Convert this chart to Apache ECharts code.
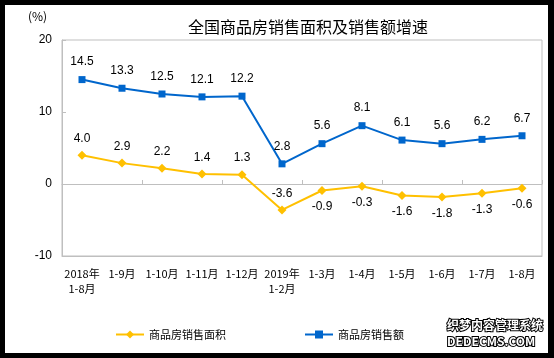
<!DOCTYPE html>
<html><head><meta charset="utf-8">
<script src="https://cdn.jsdelivr.net/npm/echarts@6/dist/echarts.min.js"></script>
<style>
html,body{margin:0;padding:0;background:#000;width:554px;height:358px;overflow:hidden}
#c{position:absolute;left:5px;top:5px;width:543px;height:348px;background:#fff}
</style></head><body><div id="c"></div>
<script>
var categories = ['2018年\n1-8月','1-9月','1-10月','1-11月','1-12月','2019年\n1-2月','1-3月','1-4月','1-5月','1-6月','1-7月','1-8月'];
var areaGrowth = [4.0,2.9,2.2,1.4,1.3,-3.6,-0.9,-0.3,-1.6,-1.8,-1.3,-0.6];
var amountGrowth = [14.5,13.3,12.5,12.1,12.2,2.8,5.6,8.1,6.1,5.6,6.2,6.7];
var yTicks = [-10,0,10,20];

var chart = echarts.init(document.getElementById('c'));
var numFont = 'Liberation Sans, Arial, sans-serif';
var cjk = '"Noto Sans CJK SC", sans-serif';
var areaData = areaGrowth.map(function(v,i){
  return {value:v, label:{position:(v<0 && i!==5)?'bottom':'top'}};
});
chart.setOption({
  animation:false,
  title:{text:'全国商品房销售面积及销售额增速',left:178,top:9,
    textStyle:{fontFamily:cjk,fontSize:16,fontWeight:'normal',color:'#000'}},
  graphic:[{type:'text',left:23,top:5,style:{text:'(%)',font:'12px '+cjk,fill:'#000'}},
    {type:'text',right:4,top:312,style:{text:'织梦内容管理系统\nDEDECMS.COM',font:'bold 12px '+cjk,fill:'#fff',stroke:'#000',lineWidth:2,lineHeight:16,textAlign:'left'}}],
  grid:{left:57,right:6,top:35,bottom:97,show:true,borderColor:'#bfbfbf',borderWidth:1},
  legend:{bottom:8,left:105,itemGap:78,itemWidth:28,itemHeight:10,
    textStyle:{fontFamily:cjk,fontSize:11,color:'#000'},
    data:['商品房销售面积','商品房销售额']},
  xAxis:[{type:'category',data:categories,boundaryGap:true,position:'bottom',
    axisLine:{onZero:false,lineStyle:{color:'#bfbfbf'}},axisTick:{show:false},
    axisLabel:{interval:0,fontFamily:cjk,fontSize:11,color:'#000',lineHeight:15,margin:10}},
   {type:'category',data:categories,boundaryGap:true,position:'bottom',
    axisLine:{onZero:true,lineStyle:{color:'#bfbfbf'}},
    axisTick:{show:true,inside:true,length:4,alignWithLabel:false,lineStyle:{color:'#bfbfbf'}},
    axisLabel:{show:false}}],
  yAxis:{type:'value',min:-10,max:20,interval:10,
    axisLine:{show:true,lineStyle:{color:'#bfbfbf'}},
    axisTick:{show:true,inside:true,length:4,lineStyle:{color:'#bfbfbf'}},
    splitLine:{show:false},
    axisLabel:{fontFamily:numFont,fontSize:12,color:'#000',margin:10,
      formatter:function(v){return yTicks.indexOf(v)>=0?String(v):'';}}},
  series:[
    {name:'商品房销售面积',type:'line',data:areaData,symbol:'diamond',symbolSize:9,
     itemStyle:{color:'#FFC000'},lineStyle:{color:'#FFC000',width:2},
     label:{show:true,fontFamily:numFont,fontSize:12,color:'#000',distance:6,
       formatter:function(p){return p.value.toFixed(1);}}},
    {name:'商品房销售额',type:'line',data:amountGrowth,symbol:'rect',symbolSize:7,
     itemStyle:{color:'#0066CC'},lineStyle:{color:'#0066CC',width:2},
     label:{show:true,position:'top',fontFamily:numFont,fontSize:12,color:'#000',distance:8,
       formatter:function(p){return p.value.toFixed(1);}}}
  ]
});
</script></body></html>
